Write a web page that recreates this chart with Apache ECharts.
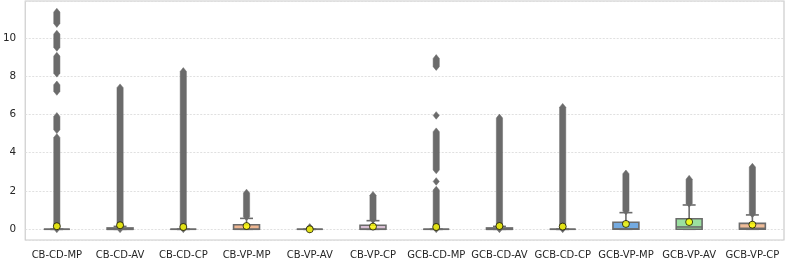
<!DOCTYPE html>
<html>
<head>
<meta charset="utf-8">
<script src="https://cdn.jsdelivr.net/npm/echarts@6/dist/echarts.min.js"></script>
<style>
html,body{margin:0;padding:0;background:#fff;}
#chart{width:785px;height:262px;}
</style>
</head>
<body>
<div id="chart"></div>
<script>
// ---- data ----
const categories = ['CB-CD-MP','CB-CD-AV','CB-CD-CP','CB-VP-MP','CB-VP-AV','CB-VP-CP',
                    'GCB-CD-MP','GCB-CD-AV','GCB-CD-CP','GCB-VP-MP','GCB-VP-AV','GCB-VP-CP'];
const whiskerLow  = [0, 0,    0, 0,    0, 0,    0, 0,    0, 0,    0,    0];
const q1          = [0, 0,    0, 0,    0, 0,    0, 0,    0, 0,    0,    0];
const median      = [0, 0,    0, 0,    0, 0,    0, 0,    0, 0.02, 0.12, 0.05];
const q3          = [0, 0.07, 0, 0.24, 0, 0.21, 0, 0.07, 0, 0.37, 0.55, 0.31];
const whiskerHigh = [0, 0.15, 0, 0.57, 0, 0.45, 0, 0.15, 0, 0.87, 1.27, 0.75];
const means       = [0.16, 0.21, 0.12, 0.17, 0.0, 0.14, 0.12, 0.17, 0.14, 0.28, 0.38, 0.24];
// outlier extents per category: [low, high] of each run of stacked flier markers
const outlierRuns = [
  [[0.02,4.8],[5.2,5.9],[7.2,7.55],[8.15,9.05],[9.5,10.2],[10.75,11.35]],
  [[0.02,7.4]],
  [[0.02,8.25]],
  [[0.65,1.9]],
  [[0.0,0.1]],
  [[0.5,1.78]],
  [[0.02,2.05],[2.5,2.5],[3.1,5.1],[5.95,5.95],[8.5,8.93]],
  [[0.02,5.82]],
  [[0.02,6.38]],
  [[0.95,2.9]],
  [[1.35,2.62]],
  [[0.8,3.25]]
];
// ---- styles ----
const boxFill = ['#cfcfcf','#cfcfcf','#cfcfcf','#efb792','#cfcfcf','#d9c0d4',
                 '#cfcfcf','#cfcfcf','#cfcfcf','#74aae0','#9be0a0','#efbc98'];
const EDGE = '#6b6b6b';

const boxData = categories.map((c, i) => [i, whiskerLow[i], q1[i], median[i], q3[i], whiskerHigh[i]]);
const flierData = [];
outlierRuns.forEach((runs, i) => runs.forEach(r => flierData.push([i, r[0], r[1]])));
const meanData = means.map((m, i) => [i, m]);

const chart = echarts.init(document.getElementById('chart'), null, {renderer: 'canvas'});

function renderBox(params, api) {
  const i = api.value(0);
  const x = api.coord([i, 0])[0];
  const band = api.size([1, 0])[0];
  const bw = band * 0.41, cw = bw / 2;
  const yWL = api.coord([i, api.value(1)])[1];
  const yQ1 = api.coord([i, api.value(2)])[1];
  const yMd = api.coord([i, api.value(3)])[1];
  const yQ3 = api.coord([i, api.value(4)])[1];
  const yWH = api.coord([i, api.value(5)])[1];
  const ls = {stroke: EDGE, lineWidth: 1.6};
  return {
    type: 'group',
    children: [
      {type: 'line', shape: {x1: x, y1: yQ3, x2: x, y2: yWH}, style: ls},
      {type: 'line', shape: {x1: x - cw / 2, y1: yWH, x2: x + cw / 2, y2: yWH}, style: ls},
      {type: 'line', shape: {x1: x, y1: yQ1, x2: x, y2: yWL}, style: ls},
      {type: 'line', shape: {x1: x - cw / 2, y1: yWL, x2: x + cw / 2, y2: yWL}, style: ls},
      {type: 'rect', shape: {x: x - bw / 2, y: yQ3, width: bw, height: yQ1 - yQ3},
        style: {fill: boxFill[params.dataIndex], stroke: EDGE, lineWidth: 1.6}},
      {type: 'line', shape: {x1: x - bw / 2, y1: yMd, x2: x + bw / 2, y2: yMd}, style: ls}
    ]
  };
}

function renderFlier(params, api) {
  const i = api.value(0);
  const x = api.coord([i, 0])[0];
  const yLo = api.coord([i, api.value(1)])[1];
  const yHi = api.coord([i, api.value(2)])[1];
  const hw = 3.1, hh = 3.8;
  return {
    type: 'polygon',
    shape: {points: [[x, yHi - hh], [x + hw, yHi], [x + hw, yLo], [x, yLo + hh], [x - hw, yLo], [x - hw, yHi]]},
    style: {fill: EDGE, stroke: EDGE, lineWidth: 0.5}
  };
}

chart.setOption({
  animation: false,
  backgroundColor: '#ffffff',
  grid: {left: 23, right: 1, top: 1, bottom: 22, show: true, borderColor: '#cccccc', borderWidth: 1.2},
  xAxis: {
    type: 'category',
    data: categories,
    boundaryGap: true,
    axisLine: {show: false},
    axisTick: {show: false},
    splitLine: {show: false},
    axisLabel: {color: '#262626', fontSize: 10, fontFamily: 'DejaVu Sans', margin: 10, interval: 0}
  },
  yAxis: {
    type: 'value',
    min: -0.56,
    max: 11.93,
    splitNumber: 6,
    minInterval: 2,
    maxInterval: 2,
    axisLine: {show: false},
    axisTick: {show: false},
    axisLabel: {
      color: '#262626', fontSize: 10.4, fontFamily: 'DejaVu Sans', margin: 9,
      showMinLabel: false, showMaxLabel: false,
      formatter: v => (Math.abs(v % 2) < 1e-9 ? String(v) : '')
    },
    splitLine: {show: true, lineStyle: {color: '#dcdcdc', width: 0.9, type: [2, 1.5]}}
  },
  series: [
    {type: 'custom', renderItem: renderFlier, data: flierData, encode: {x: 0, y: [1, 2]}, z: 2},
    {type: 'custom', renderItem: renderBox, data: boxData, encode: {x: 0, y: [1, 2, 3, 4, 5]}, z: 3},
    {type: 'scatter', data: meanData, symbol: 'circle', symbolSize: 7, z: 4,
      itemStyle: {color: '#ffff00', borderColor: '#000000', borderWidth: 0.9}}
  ]
});
</script>
</body>
</html>
